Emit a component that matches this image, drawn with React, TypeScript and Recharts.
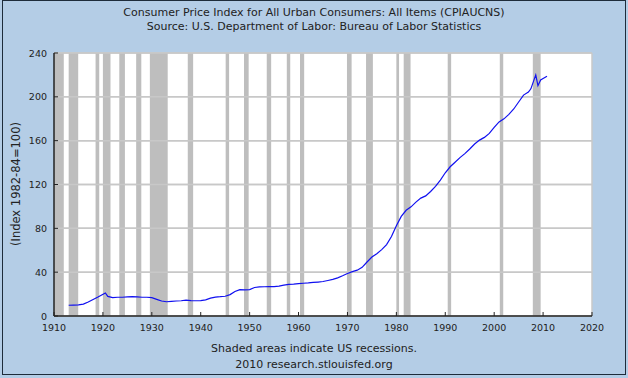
import { LineChart, Line, XAxis, YAxis, CartesianGrid, ReferenceArea, ReferenceLine } from 'recharts';

// CPI-U, not seasonally adjusted (annual averages plus a few monthly readings near the end)
const years = [
  1913, 1914, 1915, 1916, 1917, 1918, 1919, 1920.5, 1921, 1922, 1923, 1924, 1925, 1926, 1927, 1928, 1929,
  1930, 1931, 1932, 1933, 1934, 1935, 1936, 1937, 1938, 1939, 1940, 1941, 1942, 1943, 1944, 1945, 1946,
  1947, 1948, 1949, 1950, 1951, 1952, 1953, 1954, 1955, 1956, 1957, 1958, 1959, 1960, 1961, 1962, 1963,
  1964, 1965, 1966, 1967, 1968, 1969, 1970, 1971, 1972, 1973, 1974, 1975, 1976, 1977, 1978, 1979, 1980,
  1981, 1982, 1983, 1984, 1985, 1986, 1987, 1988, 1989, 1990, 1991, 1992, 1993, 1994, 1995, 1996, 1997,
  1998, 1999, 2000, 2001, 2002, 2003, 2004, 2005, 2006, 2007, 2007.5, 2008.5, 2008.95, 2009.5, 2010, 2010.8,
];
const cpi = [
  9.8, 10.0, 10.1, 10.9, 12.8, 15.1, 17.3, 21.0, 17.9, 16.8, 17.1, 17.1, 17.5, 17.7, 17.4, 17.1, 17.1,
  16.7, 15.2, 13.7, 13.0, 13.4, 13.7, 13.9, 14.4, 14.1, 13.9, 14.0, 14.7, 16.3, 17.3, 17.6, 18.0, 19.5,
  22.3, 24.1, 23.8, 24.1, 26.0, 26.5, 26.7, 26.9, 26.8, 27.2, 28.1, 28.9, 29.1, 29.6, 29.9, 30.2, 30.6,
  31.0, 31.5, 32.4, 33.4, 34.8, 36.7, 38.8, 40.5, 41.8, 44.4, 49.3, 53.8, 56.9, 60.6, 65.2, 72.6, 82.4,
  90.9, 96.5, 99.6, 103.9, 107.6, 109.6, 113.6, 118.3, 124.0, 130.7, 136.2, 140.3, 144.5, 148.2, 152.4, 156.9, 160.5,
  163.0, 166.6, 172.2, 177.1, 179.9, 184.0, 188.9, 195.3, 201.6, 204.3, 207.3, 220.0, 210.2, 215.4, 216.7, 218.7,
];

// NBER recessions (decimal years)
const recessionStart = [1910.0, 1913.0, 1918.5, 1920.0, 1923.35, 1926.8, 1929.6, 1937.35, 1945.1, 1948.85, 1953.5, 1957.6, 1960.3, 1969.9, 1973.8, 1980.0, 1981.5, 1990.5, 2001.15, 2007.9];
const recessionEnd = [1912.0, 1914.95, 1919.25, 1921.55, 1924.5, 1927.85, 1933.25, 1938.45, 1945.8, 1949.8, 1954.4, 1958.3, 1961.15, 1970.85, 1975.2, 1980.55, 1982.9, 1991.2, 2001.85, 2009.5];

const xTicks = [1910, 1920, 1930, 1940, 1950, 1960, 1970, 1980, 1990, 2000, 2010, 2020];
const yTicks = [0, 40, 80, 120, 160, 200, 240];

const data = years.map((y, i) => ({ year: y, cpi: cpi[i] }));

const FONT = 'DejaVu Sans, Verdana, sans-serif';
const TEXT = '#222';

const XTick = ({ x, y, payload }: any) => (
  <g>
    <line x1={x} x2={x} y1={y} y2={y - 4} stroke="#222" />
    <text x={x} y={y + 15} textAnchor="middle" fontSize={9.5} fontFamily={FONT} fill={TEXT}>{payload.value}</text>
  </g>
);

const YTick = ({ x, y, payload }: any) => (
  <g>
    <line x1={x} x2={x + 4} y1={y} y2={y} stroke="#222" />
    <text x={x - 7} y={y + 3.5} textAnchor="end" fontSize={9.5} fontFamily={FONT} fill={TEXT}>{payload.value}</text>
  </g>
);

export default function App() {
  return (
    <div style={{ position: 'absolute', left: 0, top: 0, width: 628, height: 378, background: '#B4CDE6', fontFamily: FONT, color: TEXT }}>
      <div style={{ position: 'absolute', left: 2, top: 0, width: 622, height: 373, border: '1px solid #1e2c3a' }} />
      <div style={{ position: 'absolute', top: 6, width: 628, textAlign: 'center', fontSize: 11, lineHeight: '14px' }}>
        Consumer Price Index for All Urban Consumers: All Items (CPIAUCNS)<br />
        Source: U.S. Department of Labor: Bureau of Labor Statistics
      </div>
      <div style={{ position: 'absolute', left: 16, top: 184, width: 0, height: 0 }}>
        <div style={{ position: 'absolute', transform: 'translate(-50%, -50%) rotate(-90deg)', whiteSpace: 'nowrap', fontSize: 11.5 }}>
          (Index 1982-84=100)
        </div>
      </div>
      <div style={{ position: 'absolute', top: 341, width: 628, textAlign: 'center', fontSize: 11, lineHeight: '16px' }}>
        Shaded areas indicate US recessions.<br />
        2010 research.stlouisfed.org
      </div>
      <div style={{ position: 'absolute', left: 0, top: 0 }}>
        <LineChart width={628} height={378} data={data} margin={{ top: 53, right: 36, bottom: 42, left: 0 }}>
          <CartesianGrid vertical={false} stroke="#C8C8C8" strokeWidth={1.5} fill="#FFFFFF" fillOpacity={1} />
          {recessionStart.map((s, i) => (
            <ReferenceArea key={i} x1={s} x2={recessionEnd[i]} y1={0} y2={240} fill="#BEBEBE" fillOpacity={1} stroke="none" ifOverflow="hidden" />
          ))}
          {yTicks.slice(1).map((t) => (
            <ReferenceLine key={t} y={t} stroke="#C8C8C8" strokeWidth={1.5} />
          ))}
          <ReferenceLine x={2020} stroke="#C8C8C8" strokeWidth={1.5} />
          <XAxis
            dataKey="year"
            type="number"
            domain={[1910, 2020]}
            ticks={xTicks}
            height={20}
            tickSize={0}
            tickMargin={0}
            tickLine={false}
            axisLine={{ stroke: '#222', strokeWidth: 1.5 }}
            tick={<XTick />}
            interval={0}
            allowDataOverflow
          />
          <YAxis
            type="number"
            domain={[0, 240]}
            ticks={yTicks}
            width={54}
            tickSize={0}
            tickMargin={0}
            tickLine={false}
            axisLine={{ stroke: '#222', strokeWidth: 1.5 }}
            tick={<YTick />}
            interval={0}
          />
          <Line type="linear" dataKey="cpi" stroke="#1010F0" strokeWidth={1.2} dot={false} isAnimationActive={false} />
        </LineChart>
      </div>
    </div>
  );
}
